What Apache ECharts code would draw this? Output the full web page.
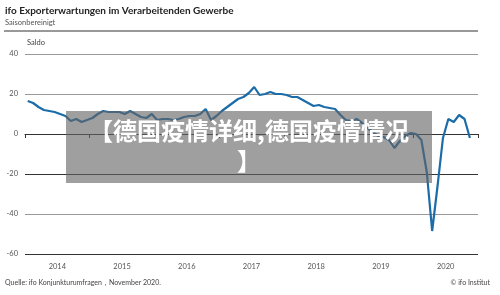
<!DOCTYPE html>
<html>
<head>
<meta charset="utf-8">
<script src="https://cdn.jsdelivr.net/npm/echarts@6/dist/echarts.min.js"></script>
<style>
  html, body { margin: 0; padding: 0; background: #fff; }
  #chart { width: 500px; height: 295px; }
</style>
</head>
<body>
<div id="chart"></div>
<script>
// monthly balance, Jan 2014 .. Nov 2020
const years = ['2014', '2015', '2016', '2017', '2018', '2019', '2020']
const saldo = [
  16.5, 15.5, 13.5, 12, 11.5, 11, 10, 9, 6.5, 7.5, 6, 7,
  8, 10, 11.5, 11, 11, 11, 10, 11.5, 10, 8.5, 8, 10,
  7, 7.5, 7.5, 7, 7.5, 8.5, 9, 9, 10, 12.5, 7, 9,
  11.5, 13.5, 15.5, 17.5, 18.5, 20.5, 23.5, 19.5, 20, 21, 20, 20,
  19.5, 18.5, 18.5, 17, 15.5, 14, 14.5, 13.5, 13, 12.5, 9.5, 7,
  6.5, 7.5, 5.5, 3, 1, -1, -1.5, -3, -7, -3.5, -1, 0.5,
  0, -3, -19, -48.5, -26, -2, 7.5, 6, 9.5, 7.5, -2
]
const yTicks = { min: -60, max: 40, step: 20 }

const chart = echarts.init(document.getElementById('chart'))
const font = 'Lato, "Noto Sans", sans-serif'

chart.setOption({
  animation: false,
  textStyle: { fontFamily: font },
  grid: { left: 25, right: 22, top: 54, bottom: 41 },
  xAxis: [
    {
      type: 'category',
      data: years,
      boundaryGap: true,
      axisLine: { lineStyle: { color: '#333', width: 1 } },
      axisTick: { show: true, length: 4, lineStyle: { color: '#333' } },
      axisLabel: { color: '#555', fontSize: 7.5, margin: 9, fontFamily: font },
      splitLine: { show: false }
    },
    {
      type: 'value',
      min: 0,
      max: years.length * 12,
      show: false
    }
  ],
  yAxis: {
    type: 'value',
    min: yTicks.min,
    max: yTicks.max,
    interval: yTicks.step,
    axisLine: { show: false },
    axisTick: { show: false },
    axisLabel: { color: '#555', fontSize: 7.5, margin: 7, fontFamily: font },
    splitLine: {
      lineStyle: { color: ['#333', '#999', '#333', '#333', '#999', '#999'], width: 1 }
    }
  },
  series: [{
    type: 'line',
    xAxisIndex: 1,
    data: saldo.map((v, i) => [i + 0.5, v]),
    showSymbol: false,
    lineStyle: { color: '#1b6ca8', width: 2.2 },
    z: 2
  }],
  graphic: [
    { type: 'text', left: 5, top: 6, style: { text: 'ifo Exporterwartungen im Verarbeitenden Gewerbe', font: 'bold 10px ' + font, fill: '#222' } },
    { type: 'text', left: 5, top: 19, style: { text: 'Saisonbereinigt', font: '7.5px ' + font, fill: '#555' } },
    { type: 'line', shape: { x1: 4, y1: 31, x2: 478, y2: 31 }, style: { stroke: '#333', lineWidth: 1 } },
    { type: 'text', left: 27, top: 39, style: { text: 'Saldo', font: '7.5px ' + font, fill: '#444' } },
    { type: 'text', left: 5, top: 279, style: { text: 'Quelle: ifo Konjunkturumfragen，November 2020.', font: '7px ' + font, fill: '#444' } },
    { type: 'text', right: 10, top: 279, style: { text: '© ifo Institut', font: '7px ' + font, fill: '#444' } },
    {
      type: 'rect', z: 100,
      shape: { x: 66, y: 111, width: 366, height: 72 },
      style: { fill: 'rgba(100,100,100,0.62)' }
    },
    {
      type: 'text', z: 101, x: 249, y: 116,
      style: {
        text: '【德国疫情详细,德国疫情情况\n】',
        font: 'bold 24px "Noto Sans CJK SC", sans-serif',
        fill: '#fff', align: 'center', lineHeight: 30
      }
    }
  ]
})
</script>
</body>
</html>
